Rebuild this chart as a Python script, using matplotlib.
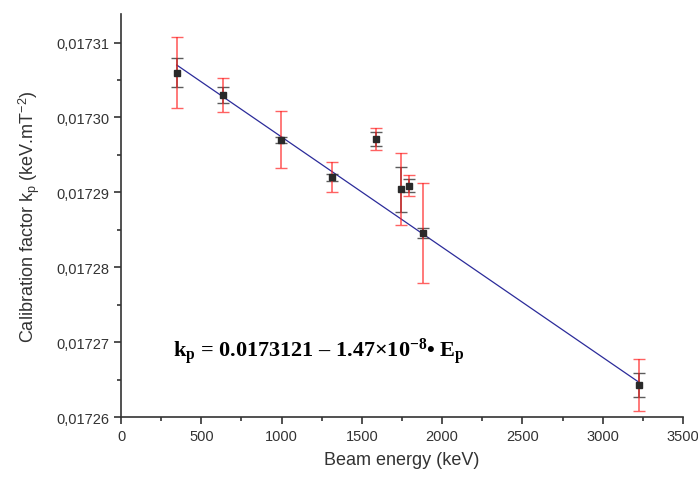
import numpy as np
import matplotlib
matplotlib.use("Agg")
import matplotlib.pyplot as plt
from matplotlib.ticker import FuncFormatter, MultipleLocator

# measured calibration factors
energy = [347, 633, 995, 1316, 1588, 1742, 1796, 1879, 3228]
kp = [0.0173060, 0.0173030, 0.0172970, 0.0172920, 0.0172971,
      0.0172904, 0.0172909, 0.0172846, 0.0172643]
err_total = [0.0000047, 0.0000023, 0.0000038, 0.0000020, 0.0000015,
             0.0000048, 0.0000014, 0.0000067, 0.0000035]
err_stat = [0.0000020, 0.0000011, 0.0000004, 0.0000005, 0.0000009,
            0.0000030, 0.0000009, 0.0000007, 0.0000016]

# linear fit
fit_a = 0.0173121
fit_b = 1.47e-8

plt.rcParams['font.family'] = ['Liberation Sans', 'DejaVu Sans']
plt.rcParams['mathtext.fontset'] = 'custom'
plt.rcParams['mathtext.rm'] = 'Liberation Serif'
plt.rcParams['mathtext.bf'] = 'Liberation Serif:bold'
plt.rcParams['mathtext.it'] = 'Liberation Serif:italic'

fig = plt.figure(figsize=(6.98, 4.85), dpi=100)
ax = fig.add_axes([0.1734, 0.1375, 0.805, 0.8315])

xf = np.array([energy[0], energy[-1]])
ax.plot(xf, fit_a - fit_b * xf, color='#2b2b9a', lw=0.9, zorder=2)

ax.errorbar(energy, kp, yerr=err_stat, fmt='none', ecolor='#333333',
            elinewidth=1.2, capsize=4.5, capthick=1.0, alpha=0.8, zorder=3)
ax.errorbar(energy, kp, yerr=err_total, fmt='none', ecolor='#ff2020',
            elinewidth=1.2, capsize=4.5, capthick=1.0, alpha=0.7, zorder=4)
ax.plot(energy, kp, 's', color='#2a2a2a', ms=5, zorder=5)

ax.text(324, 0.0172689,
        'k$_\\mathbf{p}$ = 0.0173121 – 1.47×10$^\\mathbf{-8}$• E$_\\mathbf{p}$',
        family=['Liberation Serif', 'DejaVu Serif'], fontweight='bold', fontsize=16, va='center')

ax.set_xlim(0, 3500)
ax.set_ylim(0.01726, 0.0173138)
ax.xaxis.set_major_locator(MultipleLocator(500))
ax.xaxis.set_minor_locator(MultipleLocator(250))
ax.yaxis.set_major_locator(MultipleLocator(0.00001))
ax.yaxis.set_minor_locator(MultipleLocator(0.000005))
ax.yaxis.set_major_formatter(FuncFormatter(lambda v, p: ('%.5f' % v).replace('.', ',')))

for s in ['top', 'right']:
    ax.spines[s].set_visible(False)
for s in ['left', 'bottom']:
    ax.spines[s].set_linewidth(1.2)
    ax.spines[s].set_color('#333333')
ax.tick_params(which='major', length=5, width=1.2, color='#333333', labelsize=10.5, labelcolor='#333333')
ax.tick_params(which='minor', length=3, width=1.2, color='#333333')

ax.set_xlabel('Beam energy (keV)', fontsize=13, color='#333333', labelpad=6)
ax.set_ylabel(r'Calibration factor k$_\mathregular{p}$ (keV.mT$^\mathregular{-2}$)', fontsize=13,
              color='#333333', labelpad=10)

fig.savefig('out.png', dpi=100)
